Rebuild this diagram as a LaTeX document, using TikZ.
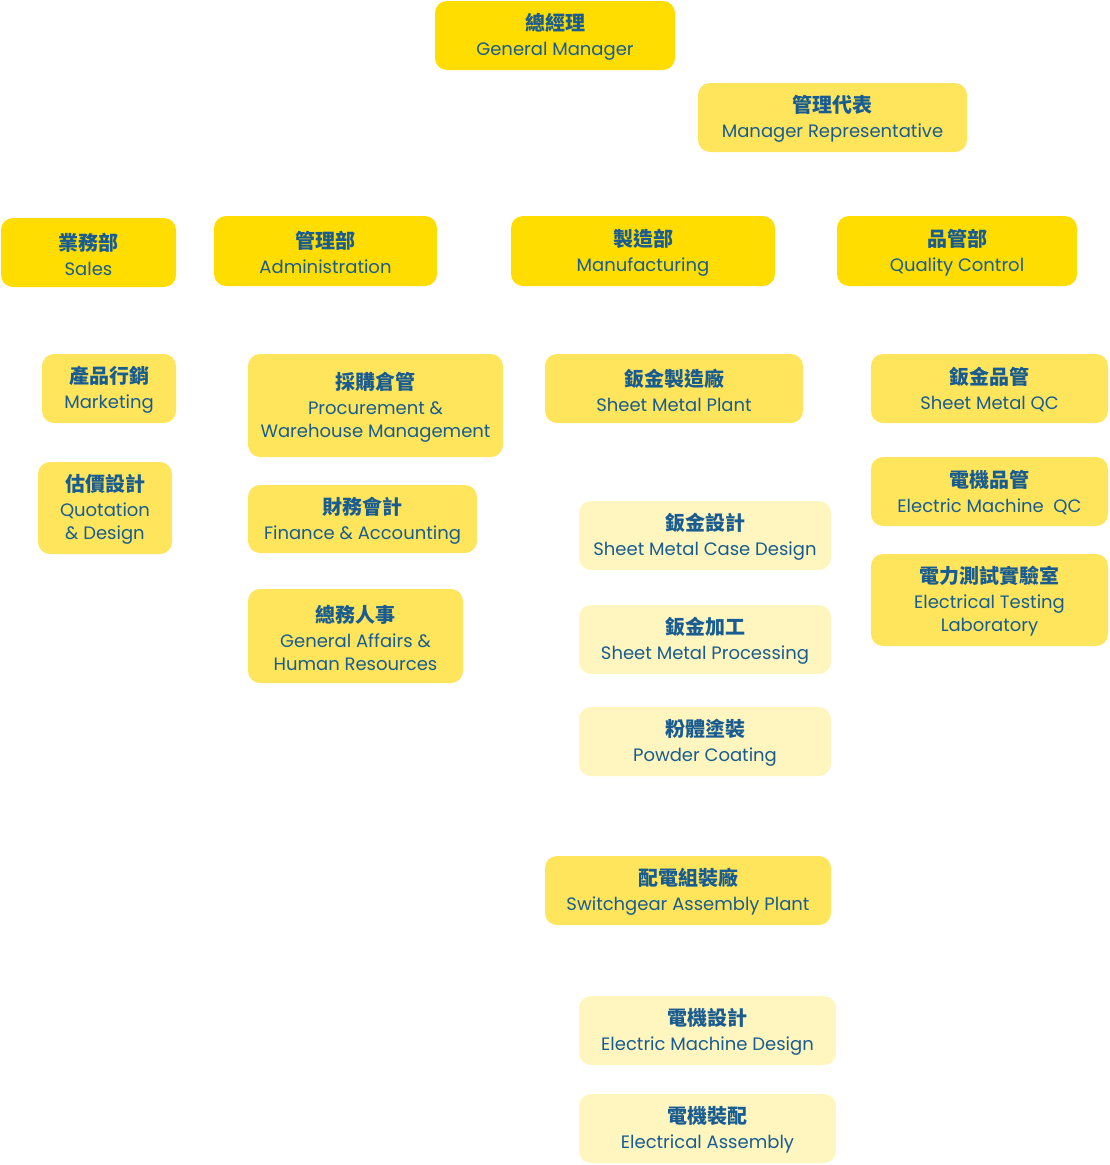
\documentclass[tikz,border=0pt]{standalone}
\usepackage{fontspec}
\setmainfont{Poppins}
\newfontfamily\zhfont{Noto Sans CJK TC}
\definecolor{txt}{RGB}{24,92,145}
\definecolor{strong}{RGB}{255,221,0}
\definecolor{mid}{RGB}{255,229,92}
\definecolor{light}{RGB}{255,245,190}
\newcommand{\zh}[1]{{\zhfont\bfseries\fontsize{20}{25}\selectfont #1}\\[2pt]}
\tikzset{
  box/.style={rectangle, rounded corners=12pt, draw=none, inner sep=0pt,
    align=center, text=txt, font=\fontsize{18}{23}\selectfont},
  boxtext/.style={inner sep=0pt, align=center, text=txt, font=\fontsize{18}{23}\selectfont},
}
\newcommand{\bx}[8]{% name, fill, x1, y1, x2, y2, content
  \node[box, fill=#2, minimum width={(#5-#3)*1pt}, minimum height={(#6-#4)*1pt}]
    (#1) at ({(#3+#5)/2},{(#4+#6)/2}) {};
  \node[boxtext] (#1-t) at ([yshift=-1.5pt]#1.center) {#7};}
\begin{document}
\begin{tikzpicture}[x=1pt,y=-1pt]
\useasboundingbox (0,0) rectangle (1110,1165);
\bx{gm}{strong}{435}{1}{675}{70}{\zh{總經理}General Manager}{}
\bx{mr}{mid}{698}{83}{967}{152}{\zh{管理代表}Manager Representative}{}
\bx{sales}{strong}{1}{218}{176}{287}{\zh{業務部}Sales}{}
\bx{admin}{strong}{214}{216}{437}{286}{\zh{管理部}Administration}{}
\bx{mfg}{strong}{511}{216}{775}{286}{\zh{製造部}Manufacturing}{}
\bx{qc}{strong}{837}{216}{1077}{286}{\zh{品管部}Quality Control}{}
\bx{mkt}{mid}{42}{354}{176}{423}{\zh{產品行銷}Marketing}{}
\bx{quo}{mid}{38}{462}{172}{554}{\zh{估價設計}Quotation\\\& Design}{}
\bx{proc}{mid}{248}{354}{503}{457}{\zh{採購倉管}Procurement \&\\Warehouse Management}{}
\bx{fin}{mid}{248}{485}{477}{553}{\zh{財務會計}Finance \& Accounting}{}
\bx{ga}{mid}{248}{589}{463}{683}{\zh{總務人事}General Affairs \&\\Human Resources}{}
\bx{smp}{mid}{545}{354}{803}{423}{\zh{鈑金製造廠}Sheet Metal Plant}{}
\bx{smcd}{light}{579}{501}{831}{570}{\zh{鈑金設計}Sheet Metal Case Design}{}
\bx{smpr}{light}{579}{605}{831}{674}{\zh{鈑金加工}Sheet Metal Processing}{}
\bx{pc}{light}{579}{707}{831}{776}{\zh{粉體塗裝}Powder Coating}{}
\bx{sap}{mid}{545}{856}{831}{925}{\zh{配電組裝廠}Switchgear Assembly Plant}{}
\bx{emd}{light}{579}{996}{836}{1065}{\zh{電機設計}Electric Machine Design}{}
\bx{ea}{light}{579}{1094}{836}{1163}{\zh{電機裝配}Electrical Assembly}{}
\bx{smqc}{mid}{871}{354}{1108}{423}{\zh{鈑金品管}Sheet Metal QC}{}
\bx{emqc}{mid}{871}{457}{1108}{526}{\zh{電機品管}Electric Machine\ \ QC}{}
\bx{etl}{mid}{871}{554}{1108}{646}{\zh{電力測試實驗室}Electrical Testing\\Laboratory}{}
\end{tikzpicture}
\end{document}
